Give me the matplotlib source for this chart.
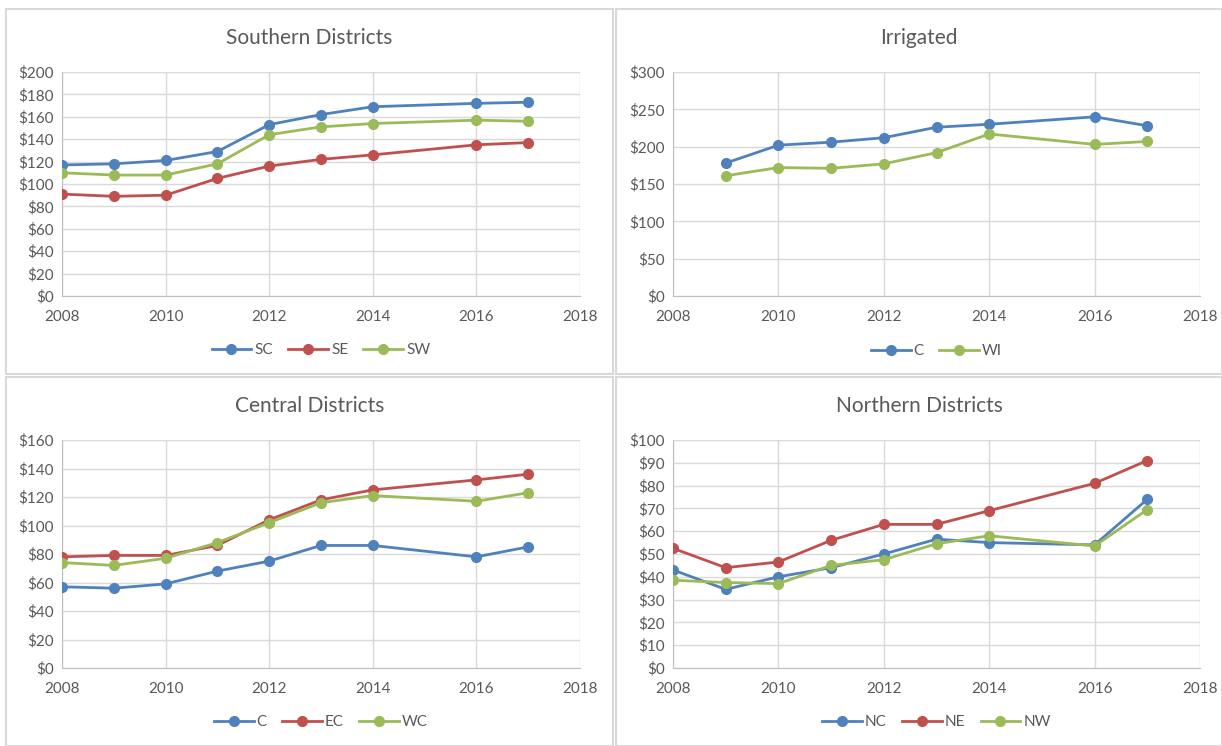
import matplotlib.pyplot as plt
from matplotlib.patches import Rectangle
from matplotlib.ticker import FuncFormatter

plt.rcParams['font.family'] = ['Lato', 'DejaVu Sans']

BLUE = '#4f81bd'
RED = '#c0504d'
GREEN = '#9bbb59'

# years with data (no 2015)
years = [2008, 2009, 2010, 2011, 2012, 2013, 2014, 2016, 2017]
years_irr = [2009, 2010, 2011, 2012, 2013, 2014, 2016, 2017]

# Southern Districts
sc = [117, 118, 121, 129, 153, 162, 169, 172, 173]
se = [91, 89, 90, 105, 116, 122, 126, 135, 137]
sw = [110, 108, 108, 118, 144, 151, 154, 157, 156]

# Irrigated
irr_c = [178, 202, 206, 212, 226, 230, 240, 228]
irr_wi = [161, 172, 171, 177, 192, 217, 203, 207]

# Central Districts
cen_c = [57, 56, 59, 68, 75, 86, 86, 78, 85]
cen_ec = [78, 79, 79, 86, 104, 118, 125, 132, 136]
cen_wc = [74, 72, 77, 88, 102, 116, 121, 117, 123]

# Northern Districts
nc = [43, 34.5, 40, 44, 50, 56.5, 55, 54, 74]
ne = [52.5, 44, 46.5, 56, 63, 63, 69, 81, 91]
nw = [38.5, 37.5, 37, 45, 47.5, 54.5, 58, 53.5, 69.5]

W, H = 1222, 746
fig = plt.figure(figsize=(W / 100, H / 100), dpi=100)

def fx(px):
    return px / W

def fy(py):
    return 1 - py / H

# panel frames (pixel boxes: x0, y0, x1, y1)
frames = [(6, 9, 613, 374), (616, 9, 1222, 374), (6, 377, 613, 746), (616, 377, 1222, 746)]
for x0, y0, x1, y1 in frames:
    fig.add_artist(Rectangle((fx(x0), fy(y1)), fx(x1 - x0), (y1 - y0) / H,
                             transform=fig.transFigure, fill=False,
                             edgecolor='#d9d9d9', linewidth=1.5))

panels = [
    dict(title='Southern Districts', box=(62, 72, 580, 296), frame=frames[0],
         ymax=200, ystep=20, title_y=38, leg_y=350,
         series=[(years, sc, 'SC', BLUE), (years, se, 'SE', RED), (years, sw, 'SW', GREEN)]),
    dict(title='Irrigated', box=(673, 72, 1200, 296), frame=frames[1],
         ymax=300, ystep=50, title_y=38, leg_y=351,
         series=[(years_irr, irr_c, 'C', BLUE), (years_irr, irr_wi, 'WI', GREEN)]),
    dict(title='Central Districts', box=(62, 440, 580, 668), frame=frames[2],
         ymax=160, ystep=20, title_y=406, leg_y=722,
         series=[(years, cen_c, 'C', BLUE), (years, cen_ec, 'EC', RED), (years, cen_wc, 'WC', GREEN)]),
    dict(title='Northern Districts', box=(673, 440, 1200, 668), frame=frames[3],
         ymax=100, ystep=10, title_y=406, leg_y=722,
         series=[(years, nc, 'NC', BLUE), (years, ne, 'NE', RED), (years, nw, 'NW', GREEN)]),
]

dollar = FuncFormatter(lambda v, pos: '$%d' % v)

for p in panels:
    x0, y0, x1, y1 = p['box']
    ax = fig.add_axes([fx(x0), fy(y1), fx(x1 - x0), (y1 - y0) / H])
    for xs, ys, name, col in p['series']:
        ax.plot(xs, ys, color=col, linewidth=2, marker='o', markersize=7,
                label=name, zorder=3)
    ax.set_xlim(2008, 2018)
    ax.set_ylim(0, p['ymax'])
    ax.set_xticks(range(2008, 2019, 2))
    ax.set_yticks(range(0, p['ymax'] + 1, p['ystep']))
    ax.yaxis.set_major_formatter(dollar)
    ax.grid(True, color='#d9d9d9', linewidth=1)
    ax.set_axisbelow(True)
    for s in ['top', 'right']:
        ax.spines[s].set_visible(False)
    for s in ['left', 'bottom']:
        ax.spines[s].set_color('#bfbfbf')
    ax.tick_params(length=0, labelsize=11, labelcolor='#595959')
    ax.tick_params(axis='x', pad=10)
    ax.tick_params(axis='y', pad=6)

    fr = p['frame']
    fig.text(fx((fr[0] + fr[2]) / 2), fy(p['title_y']), p['title'],
             ha='center', va='center', fontsize=15, color='#595959')

    leg_y = (y1 - p['leg_y']) / (y1 - y0)
    ax.legend(loc='center', bbox_to_anchor=(0.5, leg_y), ncol=len(p['series']),
              frameon=False, fontsize=11, labelcolor='#595959', handlelength=2.6,
              handletextpad=0.2, columnspacing=1.0, borderaxespad=0)

fig.savefig('out.png', dpi=100, facecolor='white')
